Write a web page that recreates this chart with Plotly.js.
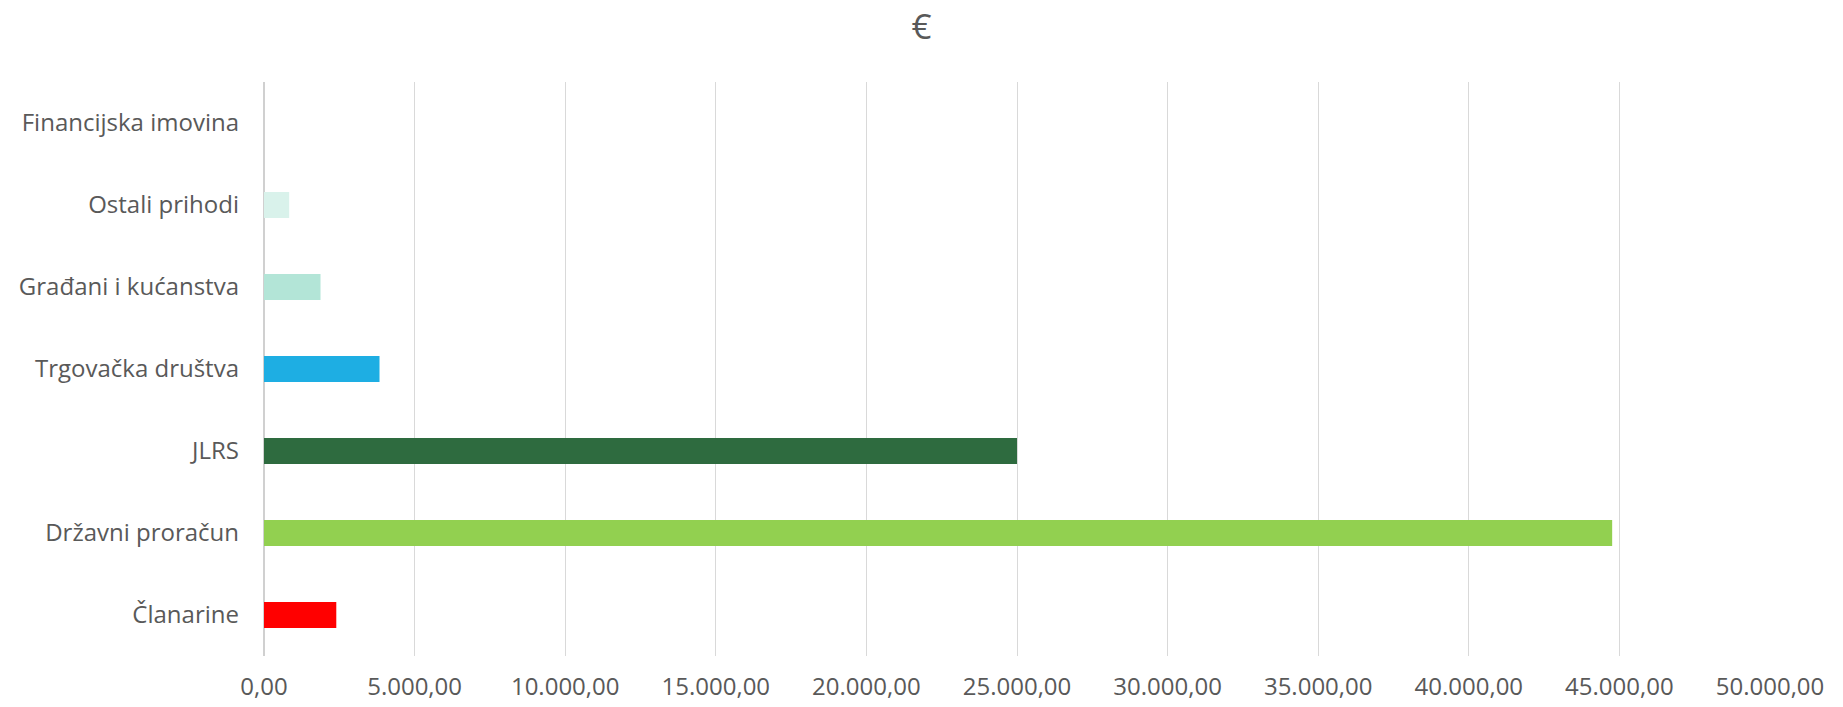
<!DOCTYPE html>
<html>
<head>
<meta charset="utf-8">
<script src="https://cdn.plot.ly/plotly-3.0.1.min.js"></script>
<style>html,body{margin:0;padding:0;background:#fff;}#chart{width:1843px;height:707px;}</style>
</head>
<body>
<div id="chart"></div>
<script>
const categories = ["Članarine", "Državni proračun", "JLRS", "Trgovačka društva", "Građani i kućanstva", "Ostali prihodi", "Financijska imovina"];
const values = [2400, 44760, 25000, 3835, 1876, 836, 0];
const colors = ["#FF0000", "#92D050", "#2E6B3F", "#1EAEE3", "#B3E5D7", "#D9F2EB", "#4472C4"];
const tickVals = [0, 5000, 10000, 15000, 20000, 25000, 30000, 35000, 40000, 45000, 50000];

const font = "Open Sans, Noto Sans, sans-serif";
const textColor = "#595959";

Plotly.newPlot("chart", [{
  type: "bar",
  orientation: "h",
  y: categories,
  x: values,
  marker: {color: colors},
  hoverinfo: "x+y"
}], {
  width: 1843,
  height: 707,
  margin: {l: 264, r: 73, t: 82, b: 51},
  paper_bgcolor: "#ffffff",
  plot_bgcolor: "#ffffff",
  separators: ",.",
  bargap: 0.683,
  showlegend: false,
  title: {
    text: "€",
    x: 0.5,
    xanchor: "center",
    y: 0.962,
    yanchor: "middle",
    font: {family: font, size: 35, color: textColor}
  },
  xaxis: {
    range: [0, 50000],
    tickvals: tickVals,
    tickformat: ",.2f",
    showgrid: true,
    gridcolor: "#D9D9D9",
    gridwidth: 1.3,
    zeroline: true,
    zerolinecolor: "#D0D0D0",
    zerolinewidth: 2,
    showline: false,
    ticks: "",
    ticklabelstandoff: 14,
    tickfont: {family: font, size: 24, color: textColor},
    fixedrange: true
  },
  yaxis: {
    type: "category",
    categoryorder: "array",
    categoryarray: categories,
    showgrid: false,
    zeroline: false,
    showline: false,
    ticks: "",
    ticklabelstandoff: 24,
    tickfont: {family: font, size: 24, color: textColor},
    fixedrange: true
  }
}, {displayModeBar: false, staticPlot: false});
</script>
</body>
</html>
